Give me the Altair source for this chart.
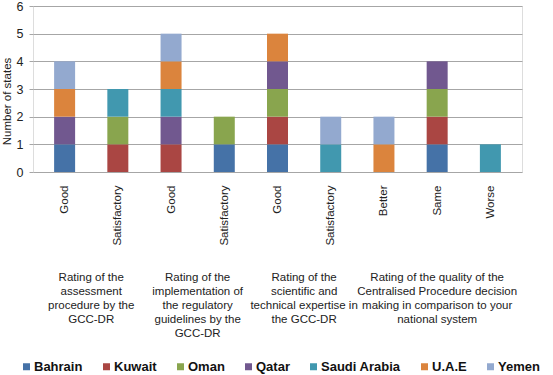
import json
import altair as alt
import pandas as pd

categories = ["Good", "Satisfactory", "Good", "Satisfactory", "Good",
              "Satisfactory", "Better", "Same", "Worse"]
countries = ["Bahrain", "Kuwait", "Oman", "Qatar", "Saudi Arabia", "U.A.E", "Yemen"]
colors = ["#4572A7", "#AA4643", "#89A54E", "#71588F", "#4198AF", "#DB843D", "#93A9CF"]

bahrain = [1, 0, 0, 1, 1, 0, 0, 1, 0]
kuwait = [0, 1, 1, 0, 1, 0, 0, 1, 0]
oman = [0, 1, 0, 1, 1, 0, 0, 1, 0]
qatar = [1, 0, 1, 0, 1, 0, 0, 1, 0]
saudi = [0, 1, 1, 0, 0, 1, 0, 0, 1]
uae = [1, 0, 1, 0, 1, 0, 1, 0, 0]
yemen = [1, 0, 1, 0, 0, 1, 1, 0, 0]

group_labels = [
    "Rating of the\nassessment\nprocedure by the\nGCC-DR",
    "Rating of the\nimplementation of\nthe regulatory\nguidelines by the\nGCC-DR",
    "Rating of the\nscientific and\ntechnical expertise in\nthe GCC-DR",
    "Rating of the quality of the\nCentralised Procedure decision\nmaking in comparison to your\nnational system",
]
group_members = [[0, 1], [2, 3], [4, 5], [6, 7, 8]]

series = [bahrain, kuwait, oman, qatar, saudi, uae, yemen]
rows = []
for country, vals in zip(countries, series):
    for i, v in enumerate(vals):
        if v > 0:
            rows.append({"pos": i, "country": country, "count": v})
bars_df = pd.DataFrame(rows)

groups_df = pd.DataFrame({
    "pos": [sum(m) / len(m) for m in group_members],
    "label": group_labels,
})

FONT = "Liberation Sans"
label_expr = json.dumps(categories) + "[datum.value]"

x_scale = alt.Scale(domain=[-0.5, len(categories) - 0.5], nice=False, zero=False)

bars = alt.Chart(bars_df).mark_bar(size=21).encode(
    x=alt.X("pos:Q", scale=x_scale,
            axis=alt.Axis(values=list(range(len(categories))), labelExpr=label_expr,
                          labelAngle=-90, title=None, grid=False, ticks=False,
                          domain=False, labelPadding=13, labelFontSize=11.5,
                          labelColor="#222222", labelFont=FONT)),
    y=alt.Y("sum(count):Q", scale=alt.Scale(domain=[0, 6], nice=False),
            axis=alt.Axis(values=[0, 1, 2, 3, 4, 5, 6], title="Number of states",
                          titleFontSize=11.5, titleFont=FONT, titleFontWeight="normal",
                          titleColor="#222222", titleX=-21, titleY=95,
                          labelFontSize=12.5, labelFont=FONT, labelColor="#222222",
                          tickSize=4, tickColor="#a6a6a6", labelPadding=6,
                          domain=False, gridColor="#a6a6a6")),
    color=alt.Color("country:N", scale=alt.Scale(domain=countries, range=colors),
                    legend=alt.Legend(orient="none", legendX=-13, legendY=354,
                                      direction="horizontal", columns=7,
                                      title=None, symbolType="square", symbolSize=49,
                                      symbolStrokeWidth=0, labelFontSize=13,
                                      labelFontWeight="bold", labelFont=FONT,
                                      labelColor="#111111", labelOffset=1,
                                      columnPadding=17)),
    order=alt.Order("country:N"),
)

texts = alt.Chart(groups_df).mark_text(
    font=FONT, fontSize=11.5, color="#222222", lineBreak="\n",
    lineHeight=14, baseline="top", align="center",
).encode(
    x=alt.X("pos:Q", scale=x_scale),
    y=alt.value(266),
    text="label:N",
)

chart = alt.layer(bars, texts).properties(
    width=489, height=166,
    autosize=alt.AutoSizeParams(type="none"),
    padding={"left": 33, "top": 6, "right": 31, "bottom": 203},
).configure_view(stroke="#a6a6a6", strokeWidth=1).configure(background="white")

chart.save("out.html", embed_options={"renderer": "svg", "actions": False})
